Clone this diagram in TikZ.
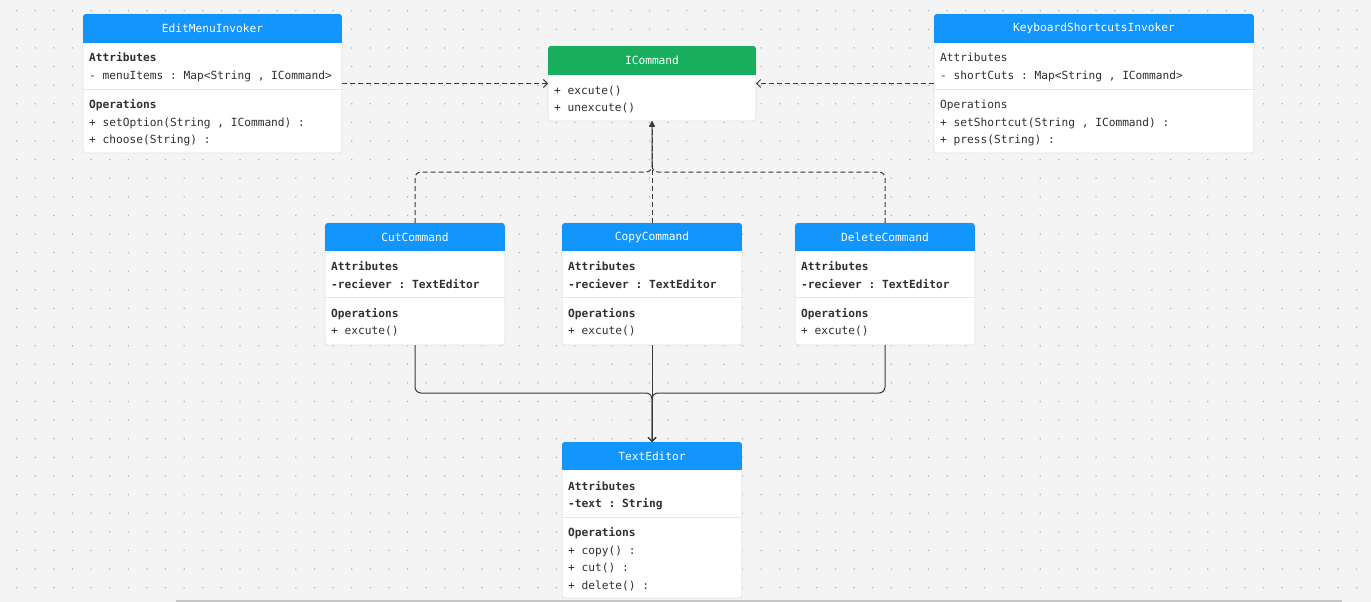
\documentclass[tikz,border=0pt]{standalone}
\usepackage{fontspec}
\setmonofont{DejaVu Sans Mono}
\usetikzlibrary{arrows.meta}

\definecolor{canvas}{HTML}{F4F4F4}
\definecolor{gridc}{HTML}{B8B8B8}
\definecolor{headblue}{HTML}{1296FE}
\definecolor{headgreen}{HTML}{19AE5D}
\definecolor{boxline}{HTML}{E2E2E2}
\definecolor{sepc}{HTML}{E8E8E8}
\definecolor{inkc}{HTML}{303030}
\definecolor{wirec}{HTML}{3A3A3A}

% class box: name, left, top, right, bottom, header bottom, header colour, title
\newcommand\umlbox[8]{%
  \node[classbody, minimum width={#4-#2}, minimum height={#5-#3}, anchor=north west] (#1) at (#2,#3) {};
  \begin{scope}
    \clip[rounded corners=3pt] (#2,#3) rectangle (#4,#5);
    \fill[#7] (#2,#3) rectangle (#4,#6);
  \end{scope}
  \node[titletext] (#1-title) at ({(#2+#4)/2},{(#3+#6)/2}) {#8};
}
% compartment divider: left, right, y
\newcommand\umlsep[3]{\draw[sepline] (#1,#3) -- (#2,#3);}
% one text line: name, box left, line centre y, text
\newcommand\umlrow[4]{\node[rowtext] (#1) at (#2+6,#3+4) {#4};}

\begin{document}
\begin{tikzpicture}[x=1pt,y=-1pt,
  classbody/.style={draw=boxline, fill=white, rounded corners=3pt, inner sep=0pt, outer sep=0pt, line width=0.8pt},
  titletext/.style={text=white, font=\ttfamily\fontsize{11.2}{13}\selectfont, inner sep=0pt},
  rowtext/.style={text=inkc, font=\ttfamily\fontsize{11.2}{13}\selectfont, inner sep=0pt, anchor=base west},
  sepline/.style={draw=sepc, line width=0.8pt},
  realize/.style={draw=wirec, line width=1pt, dash pattern=on 5pt off 3pt, rounded corners=6pt},
  assoc/.style={draw=wirec, line width=1pt, rounded corners=6pt},
  chev/.tip={Straight Barb[length=4pt, width=8pt, line width=1pt]},
  tri/.tip={Triangle[length=5.5pt, width=5.5pt]}
]
\useasboundingbox (0,0) rectangle (1371,602);
\fill[canvas] (0,0) rectangle (1371,602);

% dotted canvas grid
\foreach \i in {0,...,72}
  \foreach \j in {0,...,31}
    \fill[gridc] (16.7+\i*18.61, 10.7+\j*18.61) circle (0.85);

% --- EditMenuInvoker
\umlbox{edit}{83}{14}{342}{153}{43}{headblue}{EditMenuInvoker}
\umlrow{edit-a}{83}{58}{\bfseries Attributes}
\umlrow{edit-a1}{83}{75}{- menuItems : Map<String , ICommand>}
\umlsep{83}{342}{89.5}
\umlrow{edit-o}{83}{104}{\bfseries Operations}
\umlrow{edit-o1}{83}{122}{+ setOption(String , ICommand) :}
\umlrow{edit-o2}{83}{139}{+ choose(String) :}

% --- ICommand
\umlbox{icmd}{548}{46}{756}{121}{75}{headgreen}{ICommand}
\umlrow{icmd-o1}{548}{90}{+ excute()}
\umlrow{icmd-o2}{548}{107}{+ unexcute()}

% --- KeyboardShortcutsInvoker
\umlbox{kbd}{934}{14}{1254}{153}{43}{headblue}{KeyboardShortcutsInvoker}
\umlrow{kbd-a}{934}{58}{Attributes}
\umlrow{kbd-a1}{934}{75}{- shortCuts : Map<String , ICommand>}
\umlsep{934}{1254}{89.5}
\umlrow{kbd-o}{934}{104}{Operations}
\umlrow{kbd-o1}{934}{122}{+ setShortcut(String , ICommand) :}
\umlrow{kbd-o2}{934}{139}{+ press(String) :}

% --- concrete commands
\umlbox{cut}{325}{223}{505}{345}{251}{headblue}{CutCommand}
\umlrow{cut-a}{325}{266}{\bfseries Attributes}
\umlrow{cut-a1}{325}{284}{\bfseries -reciever : TextEditor}
\umlsep{325}{505}{297.5}
\umlrow{cut-o}{325}{313}{\bfseries Operations}
\umlrow{cut-o1}{325}{330}{+ excute()}

\umlbox{copy}{562}{223}{742}{345}{251}{headblue}{CopyCommand}
\umlrow{copy-a}{562}{266}{\bfseries Attributes}
\umlrow{copy-a1}{562}{284}{\bfseries -reciever : TextEditor}
\umlsep{562}{742}{297.5}
\umlrow{copy-o}{562}{313}{\bfseries Operations}
\umlrow{copy-o1}{562}{330}{+ excute()}

\umlbox{del}{795}{223}{975}{345}{251}{headblue}{DeleteCommand}
\umlrow{del-a}{795}{266}{\bfseries Attributes}
\umlrow{del-a1}{795}{284}{\bfseries -reciever : TextEditor}
\umlsep{795}{975}{297.5}
\umlrow{del-o}{795}{313}{\bfseries Operations}
\umlrow{del-o1}{795}{330}{+ excute()}

% --- TextEditor (receiver)
\umlbox{texted}{562}{442}{742}{598}{470}{headblue}{TextEditor}
\umlrow{texted-a}{562}{486}{\bfseries Attributes}
\umlrow{texted-a1}{562}{503}{\bfseries -text : String}
\umlsep{562}{742}{517.5}
\umlrow{texted-o}{562}{532}{\bfseries Operations}
\umlrow{texted-o1}{562}{550}{+ copy() :}
\umlrow{texted-o2}{562}{567}{+ cut() :}
\umlrow{texted-o3}{562}{585}{+ delete() :}

% --- invokers use ICommand
\draw[realize, -chev] (edit.east) -- (icmd.west);
\draw[realize, -chev] (kbd.west) -- (icmd.east);

% --- commands realize ICommand
\path (icmd.south) ++(0,51) coordinate (upbus);
\draw[realize, -tri] (cut.north) -- (cut.north |- upbus) -- (upbus) -- (icmd.south);
\draw[realize, -tri] (del.north) -- (del.north |- upbus) -- (upbus) -- (icmd.south);
\draw[realize, -tri] (copy.north) -- (icmd.south);

% --- commands hold a TextEditor
\path (texted.north) ++(0,-49) coordinate (downbus);
\draw[assoc, -chev] (cut.south) -- (cut.south |- downbus) -- (downbus) -- (texted.north);
\draw[assoc, -chev] (del.south) -- (del.south |- downbus) -- (downbus) -- (texted.north);
\draw[assoc, -chev] (copy.south) -- (texted.north);

% window edge strip
\draw[gray!45, line width=2pt] (176,600.5) -- (1342,600.5);
\end{tikzpicture}
\end{document}
